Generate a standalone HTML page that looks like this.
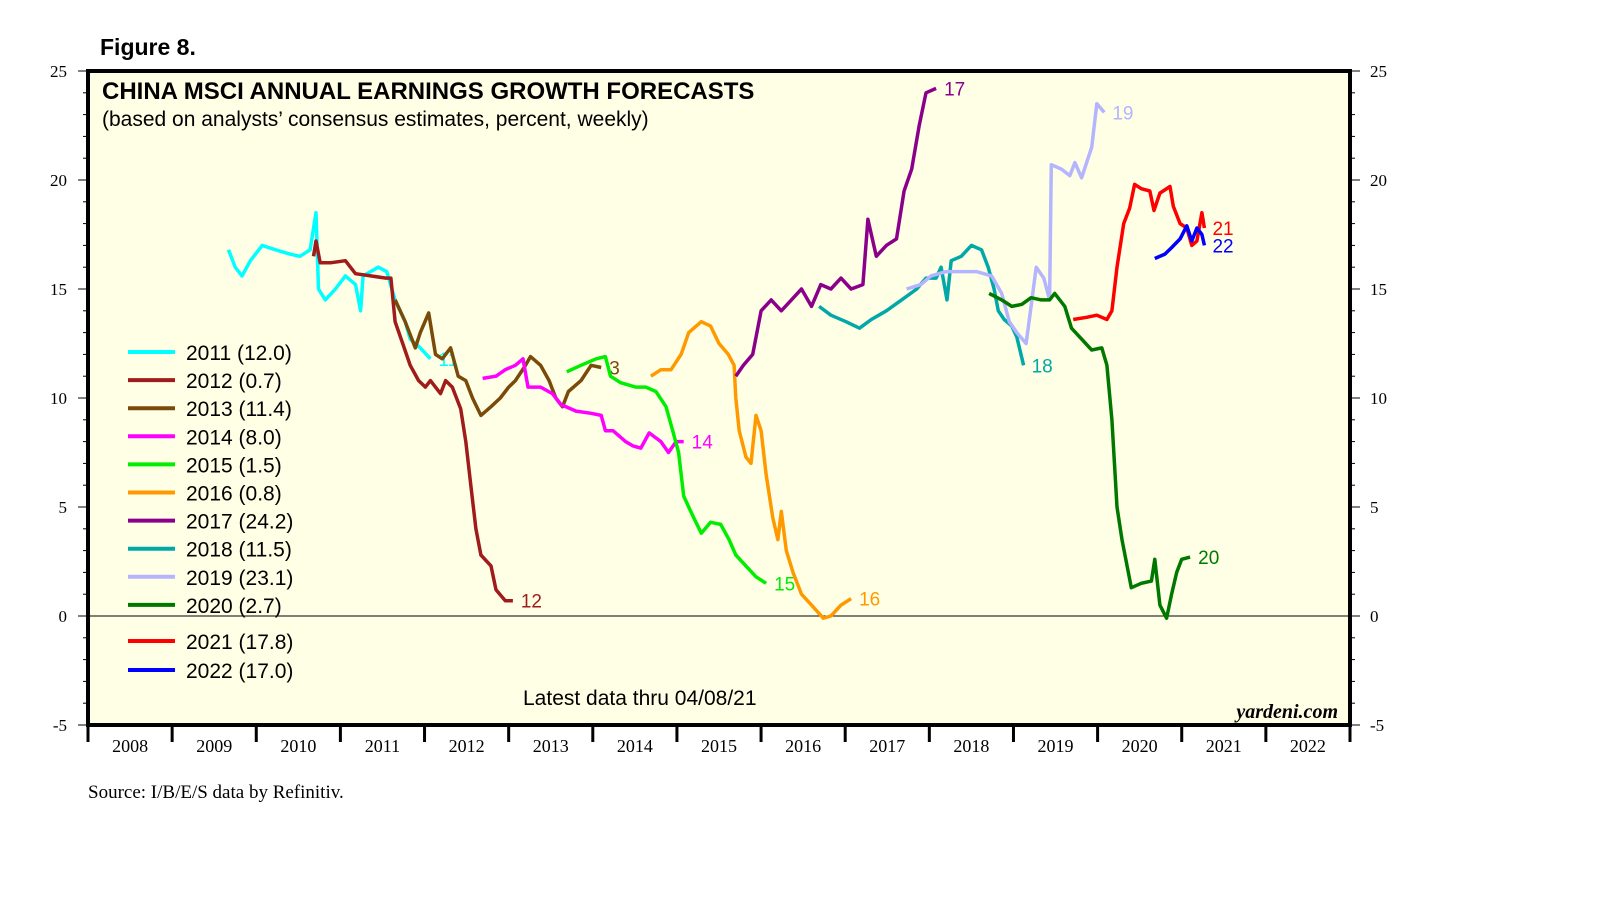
<!DOCTYPE html>
<html><head><meta charset="utf-8"><style>
body{margin:0;background:#fff;width:1610px;height:910px;overflow:hidden}
svg{position:absolute;left:0;top:0}
</style></head><body>
<svg id="chart" width="1610" height="910" xmlns="http://www.w3.org/2000/svg"></svg>
<script>
const years=[2008,2009,2010,2011,2012,2013,2014,2015,2016,2017,2018,2019,2020,2021,2022];
const yTicks=[-5,0,5,10,15,20,25];
const seriesNames=["2011","2012","2013","2014","2015","2016","2017","2018","2019","2020","2021","2022"];
const seriesLatest=["12.0","0.7","11.4","8.0","1.5","0.8","24.2","11.5","23.1","2.7","17.8","17.0"];
const seriesColors=["#00ffff","#a01c1c","#7a4a0a","#ff00ff","#00ee00","#ff9900","#8b008b","#00a8a8","#b4b4ff","#007800","#ff0000","#0000ff"];
const seriesEndLabels=["11","12","3","14","15","16","17","18","19","20","21","22"];
const d2011=[2009.67,2009.75,2009.83,2009.93,2010.07,2010.23,2010.40,2010.52,2010.64,2010.71,2010.74,2010.82,2010.94,2011.06,2011.18,2011.24,2011.27,2011.45,2011.55,2011.65,2011.77,2011.83,2011.89,2011.95,2012.07];
const v2011=[16.8,16.0,15.6,16.3,17.0,16.8,16.6,16.5,16.8,18.5,15.0,14.5,15.0,15.6,15.2,14.0,15.6,16.0,15.8,14.5,13.5,12.7,12.5,12.3,11.8];
const d2012=[2010.68,2010.71,2010.76,2010.88,2011.06,2011.18,2011.36,2011.54,2011.60,2011.65,2011.74,2011.83,2011.93,2012.01,2012.07,2012.19,2012.25,2012.33,2012.43,2012.49,2012.55,2012.61,2012.67,2012.79,2012.85,2012.96,2013.05];
const v2012=[16.5,17.2,16.2,16.2,16.3,15.7,15.6,15.5,15.5,13.5,12.5,11.5,10.8,10.5,10.8,10.2,10.8,10.5,9.5,8.0,6.0,4.0,2.8,2.3,1.2,0.7,0.7];
const d2013=[2011.65,2011.77,2011.89,2011.95,2012.05,2012.13,2012.21,2012.31,2012.40,2012.49,2012.57,2012.67,2012.79,2012.90,2013.00,2013.08,2013.20,2013.26,2013.38,2013.48,2013.56,2013.64,2013.71,2013.86,2013.98,2014.10];
const v2013=[14.5,13.5,12.3,13.0,13.9,12.0,11.8,12.3,11.0,10.8,10.0,9.2,9.6,10.0,10.5,10.8,11.5,11.9,11.5,10.8,10.0,9.6,10.3,10.8,11.5,11.4];
const d2014=[2012.69,2012.85,2012.96,2013.08,2013.17,2013.23,2013.38,2013.52,2013.62,2013.80,2013.98,2014.10,2014.15,2014.24,2014.39,2014.48,2014.57,2014.67,2014.81,2014.90,2014.99,2015.08];
const v2014=[10.9,11.0,11.3,11.5,11.8,10.5,10.5,10.2,9.7,9.4,9.3,9.2,8.5,8.5,8.0,7.8,7.7,8.4,8.0,7.5,8.0,8.0];
const d2015=[2013.69,2013.86,2014.04,2014.15,2014.21,2014.33,2014.51,2014.63,2014.75,2014.87,2014.95,2015.02,2015.08,2015.14,2015.20,2015.29,2015.40,2015.52,2015.62,2015.70,2015.82,2015.94,2016.06];
const v2015=[11.2,11.5,11.8,11.9,11.0,10.7,10.5,10.5,10.3,9.6,8.5,7.5,5.5,5.0,4.5,3.8,4.3,4.2,3.5,2.8,2.3,1.8,1.5];
const d2016=[2014.69,2014.81,2014.93,2015.05,2015.14,2015.29,2015.40,2015.50,2015.61,2015.68,2015.70,2015.74,2015.82,2015.88,2015.94,2016.00,2016.06,2016.14,2016.20,2016.24,2016.30,2016.38,2016.48,2016.60,2016.74,2016.83,2016.95,2017.07];
const v2016=[11.0,11.3,11.3,12.0,13.0,13.5,13.3,12.5,12.0,11.5,10.0,8.5,7.3,7.0,9.2,8.5,6.5,4.5,3.5,4.8,3.0,2.0,1.0,0.5,-0.1,0.0,0.5,0.8];
const d2017=[2015.70,2015.79,2015.90,2016.00,2016.12,2016.24,2016.36,2016.48,2016.60,2016.71,2016.83,2016.95,2017.07,2017.21,2017.27,2017.37,2017.49,2017.61,2017.70,2017.79,2017.88,2017.96,2018.08];
const v2017=[11.0,11.5,12.0,14.0,14.5,14.0,14.5,15.0,14.2,15.2,15.0,15.5,15.0,15.2,18.2,16.5,17.0,17.3,19.5,20.5,22.5,24.0,24.2];
const d2018=[2016.69,2016.83,2017.01,2017.17,2017.31,2017.49,2017.67,2017.85,2017.96,2018.08,2018.14,2018.21,2018.26,2018.38,2018.50,2018.62,2018.70,2018.77,2018.82,2018.89,2018.98,2019.04,2019.12];
const v2018=[14.2,13.8,13.5,13.2,13.6,14.0,14.5,15.0,15.5,15.5,16.0,14.5,16.3,16.5,17.0,16.8,16.0,15.0,14.0,13.6,13.3,12.8,11.5];
const d2019=[2017.73,2017.90,2018.02,2018.20,2018.38,2018.56,2018.74,2018.86,2018.95,2019.04,2019.15,2019.21,2019.27,2019.36,2019.43,2019.45,2019.57,2019.67,2019.73,2019.81,2019.93,2019.99,2020.08];
const v2019=[15.0,15.2,15.6,15.8,15.8,15.8,15.6,14.8,13.5,13.0,12.5,14.2,16.0,15.5,14.5,20.7,20.5,20.2,20.8,20.1,21.5,23.5,23.1];
const d2020=[2018.71,2018.86,2018.98,2019.10,2019.21,2019.33,2019.43,2019.49,2019.61,2019.69,2019.81,2019.93,2020.05,2020.11,2020.17,2020.23,2020.29,2020.40,2020.52,2020.64,2020.68,2020.74,2020.82,2020.88,2020.94,2021.00,2021.10];
const v2020=[14.8,14.5,14.2,14.3,14.6,14.5,14.5,14.8,14.2,13.2,12.7,12.2,12.3,11.5,9.0,5.0,3.5,1.3,1.5,1.6,2.6,0.5,-0.1,1.0,2.0,2.6,2.7];
const d2021=[2019.71,2019.87,2019.99,2020.11,2020.17,2020.23,2020.31,2020.38,2020.44,2020.52,2020.62,2020.67,2020.74,2020.86,2020.90,2020.98,2021.06,2021.12,2021.18,2021.24,2021.27];
const v2021=[13.6,13.7,13.8,13.6,14.0,16.0,18.0,18.7,19.8,19.6,19.5,18.6,19.4,19.7,18.8,18.0,17.8,17.0,17.2,18.5,17.8];
const d2022=[2020.68,2020.80,2020.88,2020.98,2021.06,2021.12,2021.18,2021.24,2021.27];
const v2022=[16.4,16.6,16.9,17.3,17.9,17.2,17.8,17.5,17.0];
const seriesDates=[d2011,d2012,d2013,d2014,d2015,d2016,d2017,d2018,d2019,d2020,d2021,d2022];
const seriesValues=[v2011,v2012,v2013,v2014,v2015,v2016,v2017,v2018,v2019,v2020,v2021,v2022];

const L=88,R=1350,T=71,B=725,X0=2008,X1=2023,Y0=-5,Y1=25;
const sx=t=>L+(t-X0)/(X1-X0)*(R-L);
const sy=v=>B-(v-Y0)/(Y1-Y0)*(B-T);
const NS="http://www.w3.org/2000/svg";
const svg=document.getElementById('chart');
function mk(tag,attrs,text){const e=document.createElementNS(NS,tag);for(const k in attrs)e.setAttribute(k,attrs[k]);if(text!==undefined)e.textContent=text;svg.appendChild(e);return e;}

let e;
e=mk('rect',{x:L,y:T,width:R-L,height:B-T,fill:'#ffffe6'});


e=mk('line',{x1:L,x2:R,y1:sy(0),y2:sy(0),stroke:'#000','stroke-width':1});


// y ticks
for(let v=Y0;v<=Y1;v++){
  const major=v%5===0;const len=major?10:5;
  mk('line',{x1:L-len,x2:L,y1:sy(v),y2:sy(v),stroke:'#000','stroke-width':1});
  mk('line',{x1:R,x2:R+len,y1:sy(v),y2:sy(v),stroke:'#000','stroke-width':1});
}
yTicks.forEach(v=>{
  e=mk('text',{x:67,y:sy(v)+6,'text-anchor':'end','font-family':'Liberation Serif, serif','font-size':17},String(v));
  
  
  e=mk('text',{x:1370,y:sy(v)+6,'text-anchor':'start','font-family':'Liberation Serif, serif','font-size':17},String(v));
  
  
});
// x ticks
for(let y=X0;y<=X1;y++){
  mk('line',{x1:sx(y),x2:sx(y),y1:B,y2:B+17,stroke:'#000','stroke-width':3});
}
years.forEach(y=>{
  e=mk('text',{x:sx(y+0.5),y:752,'text-anchor':'middle','font-family':'Liberation Serif, serif','font-size':18},String(y));
  
  
});
// series
seriesNames.forEach((n,i)=>{
  const ds=seriesDates[i],vs=seriesValues[i];
  const pts=ds.map((d,j)=>sx(d).toFixed(1)+','+sy(vs[j]).toFixed(1)).join(' ');
  e=mk('polyline',{points:pts,fill:'none',stroke:seriesColors[i],'stroke-width':3.5,'stroke-linejoin':'round'});
  
  
  const last=ds.length-1;
  e=mk('text',{x:sx(ds[last])+8,y:sy(vs[last])+7,fill:seriesColors[i],'font-family':'Liberation Sans, sans-serif','font-size':19},seriesEndLabels[i]);
  
  
});
// legend
seriesNames.forEach((n,i)=>{
  const y=i<10?352+i*28.1:641+(i-10)*29;
  e=mk('line',{x1:128,x2:175,y1:y,y2:y,stroke:seriesColors[i],'stroke-width':4});
  
  
  e=mk('text',{x:186,y:y+8,'font-family':'Liberation Sans, sans-serif','font-size':21},n+' ('+seriesLatest[i]+')');
  
  
});
e=mk('rect',{x:L,y:T,width:R-L,height:B-T,fill:'none',stroke:'#000','stroke-width':4});


e=mk('text',{x:100,y:55,'font-family':'Liberation Sans, sans-serif','font-size':23,'font-weight':'bold'},'Figure 8.');


e=mk('text',{x:102,y:99,'font-family':'Liberation Sans, sans-serif','font-size':24,'font-weight':'bold'},'CHINA MSCI ANNUAL EARNINGS GROWTH FORECASTS');


e=mk('text',{x:102,y:126,'font-family':'Liberation Sans, sans-serif','font-size':21},'(based on analysts\u2019 consensus estimates, percent, weekly)');


e=mk('text',{x:523,y:705,'font-family':'Liberation Sans, sans-serif','font-size':21},'Latest data thru  04/08/21');


e=mk('text',{x:1338,y:718,'text-anchor':'end','font-family':'Liberation Serif, serif','font-size':20,'font-weight':'bold','font-style':'italic'},'yardeni.com');


e=mk('text',{x:88,y:798,'font-family':'Liberation Serif, serif','font-size':19},'Source: I/B/E/S data by Refinitiv.');


</script>
</body></html>
